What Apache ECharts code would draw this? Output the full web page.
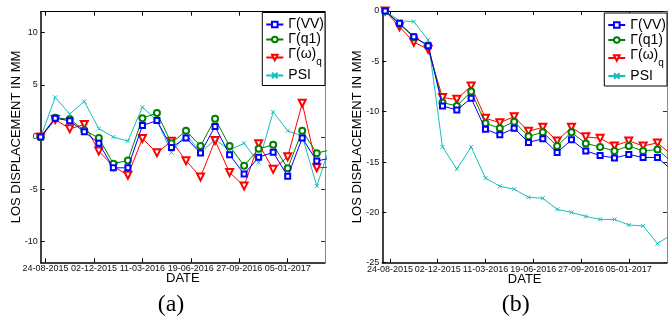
<!DOCTYPE html>
<html><head><meta charset="utf-8">
<script src="https://cdn.jsdelivr.net/npm/echarts@6/dist/echarts.min.js"></script>
<style>html,body{margin:0;padding:0;background:#fff}#c{width:668px;height:320px}</style>
</head><body><div id="c"></div>
<script>
// ---- data ----
const obsDates = ['2015-08-14','2015-09-13','2015-10-13','2015-11-12','2015-12-12','2016-01-11','2016-02-10','2016-03-11','2016-04-10','2016-05-10','2016-06-09','2016-07-09','2016-08-08','2016-09-07','2016-10-07','2016-11-06','2016-12-06','2017-01-05','2017-02-04','2017-03-06','2017-04-05'];
const xTickDates = ['2015-08-24','2015-12-02','2016-03-11','2016-06-19','2016-09-27','2017-01-05'];
const xTickLabels = ['24-08-2015','02-12-2015','11-03-2016','19-06-2016','27-09-2016','05-01-2017'];
const yTicksA = [-10,-5,0,5,10];
const yTicksB = [-25,-20,-15,-10,-5,0];
const seriesNames = ['Γ(VV)','Γ(q1)','Γ(ω)q','PSI'];

const a_VV  = [0, 1.8, 1.55, 0.5, -0.6, -2.95, -2.95, 1.1, 1.57, -1.0, -0.1, -1.54, 1.0, -1.7, -3.55, -1.95, -1.45, -3.77, -0.1, -2.3, -2.0];
const a_q1  = [0, 1.85, 1.7, 0.65, -0.1, -2.55, -2.25, 1.8, 2.3, -0.6, 0.6, -0.87, 1.75, -0.87, -2.75, -1.13, -0.75, -3.0, 0.6, -1.55, -1.2];
const a_wq  = [0, 1.67, 0.78, 1.2, -1.35, -2.8, -3.67, -0.15, -1.52, -0.4, -2.27, -3.83, -0.33, -3.4, -4.7, -0.65, -3.1, -1.9, 3.23, -2.95, -2.9];
const a_psi = [0, 3.8, 2.2, 3.4, 0.8, 0.0, -0.4, 2.85, 1.6, -1.5, 0.3, -1.5, -0.25, -1.25, -0.6, -2.45, 2.4, 0.6, 0.1, -4.7, -0.5];

const b_VV  = [0, -1.22, -2.55, -3.44, -9.43, -9.83, -8.67, -11.75, -12.3, -11.65, -13.05, -12.7, -14.05, -12.8, -13.9, -14.35, -14.6, -14.25, -14.55, -14.55, -15.8];
const b_q1  = [0, -1.3, -2.6, -3.44, -9.1, -9.43, -8.0, -11.15, -11.65, -11.0, -12.45, -12.05, -13.4, -12.05, -13.15, -13.5, -13.9, -13.4, -13.9, -13.75, -15.0];
const b_wq  = [0, -1.56, -3.1, -3.8, -8.6, -8.77, -7.45, -10.66, -11.09, -10.5, -11.95, -11.55, -12.9, -11.55, -12.5, -12.65, -13.4, -12.9, -13.4, -13.1, -14.3];
const b_psi = [0, -0.96, -1.06, -2.88, -13.5, -15.7, -13.5, -16.6, -17.4, -17.7, -18.5, -18.6, -19.7, -20.0, -20.4, -20.7, -20.7, -21.25, -21.35, -23.1, -22.2];

// ---- build ----
const FONT = 'Liberation Sans, Arial, sans-serif';
const DAY = 86400000, REF = Date.UTC(2015,7,24);
function toDay(s){ const p = s.split('-').map(Number); return Math.round((Date.UTC(p[0],p[1]-1,p[2]) - REF)/DAY); }
const obsX = obsDates.map(toDay);
const tickX = xTickDates.map(toDay);
const labelOf = v => { const i = tickX.indexOf(Math.round(v)); return i >= 0 ? xTickLabels[i] : ''; };

const chart = echarts.init(document.getElementById('c'), null, {renderer:'canvas'});

function xAxes(g, min, max){
  return [
    {type:'value', gridIndex:g, min:min, max:max, position:'bottom',
     axisLine:{show:true, onZero:false, lineStyle:{color:'#000', width:1.5}},
     axisTick:{show:true, inside:true, length:4, customValues:tickX, lineStyle:{color:'#000', width:1}},
     axisLabel:{show:true, customValues:tickX, formatter:labelOf, fontSize:9, color:'#111', margin:2, fontFamily:FONT},
     splitLine:{show:false},
     name:'DATE', nameLocation:'middle', nameGap:10, nameMoveOverlap:false,
     nameTextStyle:{fontSize:13, color:'#000', fontFamily:FONT}},
    {type:'value', gridIndex:g, min:min, max:max, position:'top',
     axisLine:{show:true, onZero:false, lineStyle:{color:'#000', width:1}},
     axisTick:{show:true, inside:true, length:4, customValues:tickX, lineStyle:{color:'#000', width:1}},
     axisLabel:{show:false}, splitLine:{show:false}}
  ];
}
function yAxes(g, min, max, ticks){
  return [
    {type:'value', gridIndex:g, min:min, max:max, position:'left',
     axisLine:{show:true, onZero:false, lineStyle:{color:'#000', width:1.5}},
     axisTick:{show:true, inside:true, length:4, customValues:ticks, lineStyle:{color:'#000', width:1}},
     axisLabel:{show:true, customValues:ticks, fontSize:9, color:'#111', margin:3, fontFamily:FONT,
                showMinLabel:true, showMaxLabel:true},
     splitLine:{show:false},
     name:'LOS DISPLACEMENT IN MM', nameLocation:'middle', nameGap:18, nameMoveOverlap:false,
     nameTextStyle:{fontSize:13, color:'#000', fontFamily:FONT}},
    {type:'value', gridIndex:g, min:min, max:max, position:'right',
     axisLine:{show:true, onZero:false, lineStyle:{color:'#888', width:1}},
     axisTick:{show:true, inside:true, length:4, customValues:ticks, lineStyle:{color:'#333', width:1}},
     axisLabel:{show:false}, splitLine:{show:false}}
  ];
}

const styles = [
  {color:'#0000ff', symbol:'emptyRect', symbolSize:5},
  {color:'#008000', symbol:'emptyCircle', symbolSize:6},
  {color:'#ff0000', symbol:'emptyTriangle', symbolSize:7, symbolRotate:180},
  {color:'#17bdbd', symbol:'path://M0,0L10,10M10,0L0,10', symbolSize:4}
];
function mkSeries(g, arrs){
  return arrs.map((arr, k) => {
    const st = styles[k];
    return {
      type:'line', name:seriesNames[k], xAxisIndex:g*2, yAxisIndex:g*2,
      data: obsX.map((x,i) => [x, arr[i]]),
      symbol: st.symbol, symbolSize: st.symbolSize, symbolRotate: st.symbolRotate || 0,
      showAllSymbol:true, clip:true, animation:false,
      lineStyle:{color:st.color, width:1},
      itemStyle:{color: st.color, borderColor:st.color, borderWidth:1},
      emphasis:{disabled:true}, z: 2 + (3-k)
    };
  });
}

const legendBase = {
  data: seriesNames, orient:'vertical', selectedMode:false,
  backgroundColor:'#fff', borderColor:'#000', borderWidth:1, borderRadius:0,
  padding:[5,1,3,3], itemGap:1, itemWidth:17, itemHeight:7,
  formatter: n => n === 'Γ(ω)q' ? '{t|Γ(ω)}{s|q}' : '{n|' + n + '}',
  textStyle:{fontSize:14, fontFamily:FONT, color:'#000',
    rich:{ n:{fontSize:14, lineHeight:16, fontFamily:FONT, color:'#000'},
           t:{fontSize:14, lineHeight:16, verticalAlign:'top', fontFamily:FONT, color:'#000'},
           s:{fontSize:10, lineHeight:20, verticalAlign:'bottom', fontFamily:FONT, color:'#000'} }},
  z: 10
};

chart.setOption({
  animation:false,
  backgroundColor:'#fff',
  grid:[
    {left:40.7, top:11.7, width:284.3, height:250.6, containLabel:false},
    {left:382.3, top:11, width:284.7, height:251.7, containLabel:false}
  ],
  xAxis: xAxes(0, -10, 577).concat(xAxes(1, -16, 580)),
  yAxis: yAxes(0, -12, 12, yTicksA).concat(yAxes(1, -25, 0, yTicksB)),
  legend:[
    Object.assign({}, legendBase, {right: 668-325, top: 12.5}),
    Object.assign({}, legendBase, {right: 1, top: 13})
  ],
  series: mkSeries(0, [a_VV, a_q1, a_wq, a_psi]).concat(mkSeries(1, [b_VV, b_q1, b_wq, b_psi])),
  graphic:[
    {type:'text', x:171, y:305, style:{text:'(a)', font:'24px "Liberation Serif", "Times New Roman", serif', fill:'#000', align:'center', verticalAlign:'middle'}},
    {type:'text', x:515.7, y:305, style:{text:'(b)', font:'24px "Liberation Serif", "Times New Roman", serif', fill:'#000', align:'center', verticalAlign:'middle'}}
  ]
});
</script></body></html>
